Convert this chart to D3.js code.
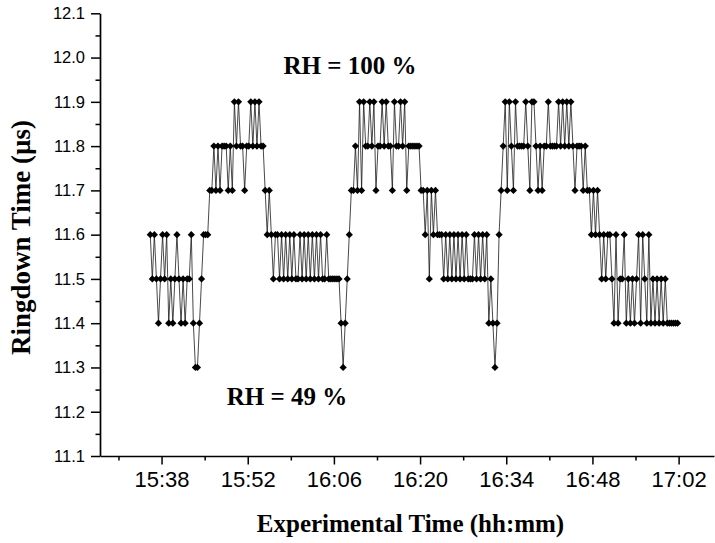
<!DOCTYPE html>
<html>
<head>
<meta charset="utf-8">
<script src="https://cdn.jsdelivr.net/npm/d3@7"></script>
<style>
  html, body { margin: 0; padding: 0; background: #fff; }
  svg { display: block; }
  .tick-label { font-family: "Liberation Sans", Arial, sans-serif; fill: #000; }
  .title { font-family: "Liberation Serif", "Times New Roman", serif; font-weight: bold; fill: #000; }
</style>
</head>
<body>
<svg id="chart" width="715" height="543"></svg>
<script>
// Ringdown time recorded every 20 s while humidity was cycled between 49 % and 100 % RH
const sampleStart = "15:36:10";
const sampleStepSec = 20;
const ringdown = [
  11.6,11.5,11.6,11.5,11.4,11.5,11.6,11.5,11.6,11.4,
  11.5,11.4,11.5,11.6,11.5,11.4,11.5,11.4,11.5,11.5,
  11.6,11.4,11.3,11.3,11.4,11.5,11.6,11.6,11.6,11.7,
  11.7,11.8,11.7,11.8,11.7,11.8,11.8,11.8,11.7,11.8,
  11.7,11.9,11.8,11.9,11.8,11.8,11.7,11.8,11.8,11.9,
  11.8,11.9,11.8,11.9,11.8,11.8,11.7,11.6,11.7,11.6,
  11.5,11.6,11.6,11.5,11.6,11.5,11.6,11.5,11.6,11.5,
  11.6,11.5,11.5,11.6,11.5,11.6,11.5,11.6,11.5,11.6,
  11.5,11.6,11.5,11.6,11.5,11.5,11.6,11.5,11.5,11.5,
  11.5,11.5,11.5,11.4,11.3,11.4,11.5,11.6,11.7,11.7,
  11.8,11.7,11.9,11.7,11.9,11.8,11.8,11.9,11.8,11.9,
  11.7,11.8,11.8,11.9,11.8,11.9,11.8,11.8,11.7,11.9,
  11.8,11.8,11.9,11.8,11.9,11.7,11.8,11.8,11.8,11.8,
  11.8,11.8,11.7,11.7,11.6,11.7,11.5,11.7,11.6,11.7,
  11.6,11.6,11.6,11.5,11.6,11.5,11.6,11.5,11.6,11.5,
  11.6,11.5,11.6,11.5,11.6,11.5,11.5,11.5,11.6,11.5,
  11.6,11.5,11.6,11.5,11.6,11.4,11.5,11.4,11.3,11.4,
  11.6,11.7,11.8,11.9,11.7,11.9,11.8,11.7,11.9,11.8,
  11.8,11.8,11.8,11.9,11.8,11.7,11.9,11.9,11.8,11.7,
  11.8,11.7,11.8,11.8,11.9,11.8,11.8,11.8,11.8,11.9,
  11.8,11.9,11.8,11.9,11.8,11.9,11.8,11.7,11.8,11.8,
  11.8,11.7,11.8,11.7,11.7,11.6,11.7,11.6,11.7,11.6,
  11.5,11.6,11.5,11.6,11.6,11.5,11.4,11.6,11.4,11.5,
  11.5,11.6,11.4,11.5,11.4,11.5,11.4,11.5,11.6,11.4,
  11.6,11.5,11.4,11.6,11.4,11.5,11.4,11.5,11.4,11.5,
  11.4,11.5,11.4,11.4,11.4,11.4,11.4,11.4
];

// Axis ranges and tick labels
const xStart = "15:28:00";
const xEnd = "17:07:45";
const xTickLabels = ["15:38", "15:52", "16:06", "16:20", "16:34", "16:48", "17:02"];
const xMinorTickLabels = ["15:31", "15:45", "15:59", "16:13", "16:27", "16:41", "16:55"];
const yDomain = [11.1, 12.1];
const yTickValues = [11.1, 11.2, 11.3, 11.4, 11.5, 11.6, 11.7, 11.8, 11.9, 12.0, 12.1];
const yMinorTickValues = [11.15, 11.25, 11.35, 11.45, 11.55, 11.65, 11.75, 11.85, 11.95, 12.05];

const annotations = [
  { text: "RH = 100 %", time: "16:08:36", value: 11.962 },
  { text: "RH = 49 %", time: "15:58:23", value: 11.215 }
];
const xTitle = "Experimental Time (hh:mm)";
const yTitle = "Ringdown Time (\u00b5s)";

const parseTime = s => {
  const p = s.split(":").map(Number);
  return new Date(2000, 0, 1, p[0], p[1], p[2] || 0);
};

const t0 = parseTime(sampleStart);
const points = ringdown.map((v, i) => ({
  t: new Date(t0.getTime() + i * sampleStepSec * 1000),
  v
}));

const margin = { left: 100, right: 1, top: 13, bottom: 87 };
const W = 715, H = 543;

const x = d3.scaleTime()
  .domain([parseTime(xStart), parseTime(xEnd)])
  .range([margin.left, W - margin.right]);
const y = d3.scaleLinear()
  .domain(yDomain)
  .range([H - margin.bottom, margin.top + 0.3]);

const svg = d3.select("#chart");
const fmt = d3.timeFormat("%H:%M");

// Bottom axis: major ticks every 14 min, minor ticks in between
const xAxis = svg.append("g")
  .attr("transform", `translate(0,${y.range()[0]})`)
  .call(d3.axisBottom(x)
    .tickValues(xTickLabels.map(parseTime))
    .tickFormat(fmt)
    .tickSize(8.5)
    .tickPadding(7)
    .tickSizeOuter(0));
xAxis.select(".domain").attr("stroke-width", 1.7);
xAxis.selectAll(".tick line").attr("stroke-width", 1.5);
xAxis.selectAll(".tick text")
  .attr("class", "tick-label")
  .style("font-size", "22px");

svg.append("g")
  .attr("transform", `translate(0,${y.range()[0]})`)
  .call(d3.axisBottom(x)
    .tickValues(xMinorTickLabels.map(parseTime))
    .tickFormat("")
    .tickSize(4.5)
    .tickSizeOuter(0))
  .call(g => g.select(".domain").remove())
  .selectAll(".tick line").attr("stroke-width", 1.5);

// Left axis
const yAxis = svg.append("g")
  .attr("transform", `translate(${margin.left},0)`)
  .call(d3.axisLeft(y)
    .tickValues(yTickValues)
    .tickFormat(d3.format(".1f"))
    .tickSize(9)
    .tickPadding(6)
    .tickSizeOuter(0));
yAxis.select(".domain").attr("stroke-width", 1.7);
yAxis.selectAll(".tick line").attr("stroke-width", 1.5);
yAxis.selectAll(".tick text")
  .attr("class", "tick-label")
  .style("font-size", "16.5px");

svg.append("g")
  .attr("transform", `translate(${margin.left},0)`)
  .call(d3.axisLeft(y)
    .tickValues(yMinorTickValues)
    .tickFormat("")
    .tickSize(4.5)
    .tickSizeOuter(0))
  .call(g => g.select(".domain").remove())
  .selectAll(".tick line").attr("stroke-width", 1.5);

// Connecting line
const line = d3.line().x(d => x(d.t)).y(d => y(d.v));
svg.append("path")
  .datum(points)
  .attr("fill", "none")
  .attr("stroke", "#1a1a1a")
  .attr("stroke-width", 0.8)
  .attr("d", line);

// Diamond markers
const diamond = {
  draw(ctx, size) {
    const r = Math.sqrt(size / 2);
    ctx.moveTo(0, -r);
    ctx.lineTo(r, 0);
    ctx.lineTo(0, r);
    ctx.lineTo(-r, 0);
    ctx.closePath();
  }
};
svg.append("g")
  .selectAll("path")
  .data(points)
  .join("path")
  .attr("transform", d => `translate(${x(d.t)},${y(d.v)})`)
  .attr("d", d3.symbol(diamond, 26))
  .attr("fill", "#000");

// Annotations
svg.append("g")
  .selectAll("text")
  .data(annotations)
  .join("text")
  .attr("class", "title")
  .attr("x", d => x(parseTime(d.time)))
  .attr("y", d => y(d.value))
  .attr("text-anchor", "middle")
  .style("font-size", "25px")
  .text(d => d.text);

// Axis titles
svg.append("text")
  .attr("class", "title")
  .attr("x", 410.5)
  .attr("y", 532)
  .attr("text-anchor", "middle")
  .style("font-size", "25px")
  .text(xTitle);

svg.append("text")
  .attr("class", "title")
  .attr("transform", `translate(30,237.5) rotate(-90)`)
  .attr("text-anchor", "middle")
  .style("font-size", "27px")
  .text(yTitle);
</script>
</body>
</html>
